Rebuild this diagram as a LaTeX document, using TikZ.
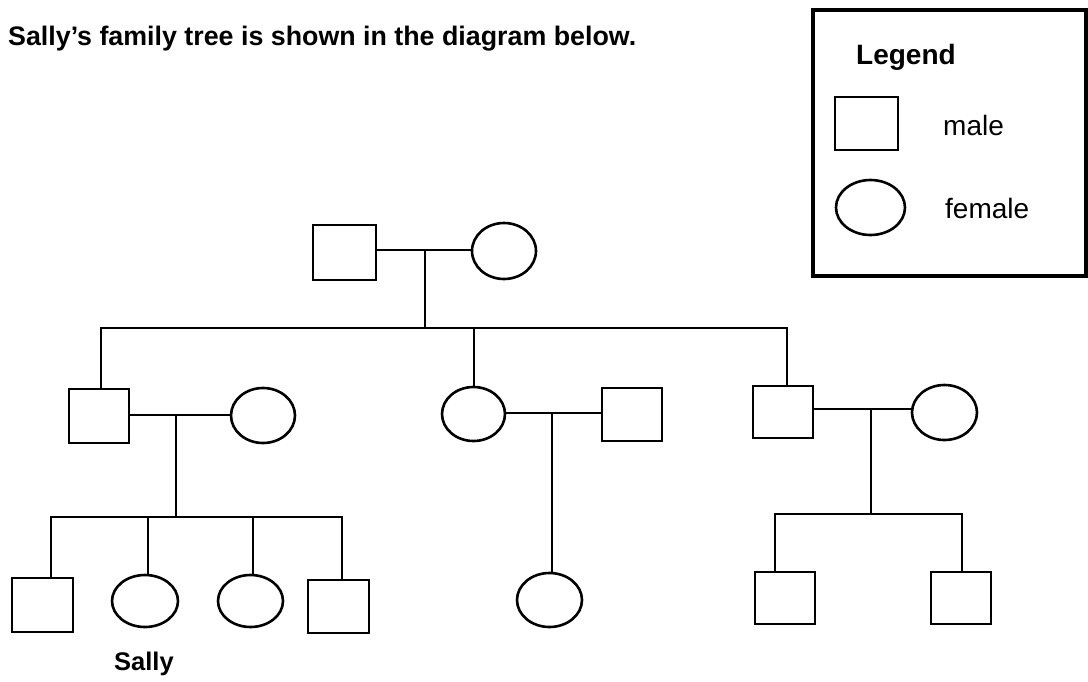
\documentclass[tikz,border=0pt]{standalone}
\usepackage{fontspec}
\setmainfont{Liberation Sans}
\usetikzlibrary{shapes.geometric}
\tikzset{
  ln/.style={line width=2.6pt, line join=miter},
  male/.style={draw, rectangle, line width=2.6pt, inner sep=0pt, minimum width=61pt, minimum height=54pt},
  female/.style={draw, ellipse, line width=2.6pt, inner sep=0pt, minimum width=65pt, minimum height=54pt},
  lbl/.style={anchor=base west, inner sep=0pt, font=\fontsize{28pt}{30pt}\selectfont},
  blbl/.style={anchor=base west, inner sep=0pt, font=\fontsize{26.8pt}{30pt}\selectfont\bfseries},
}
\begin{document}
\begin{tikzpicture}[x=1pt,y=-1pt]
\useasboundingbox (0,0) rectangle (1088,681);
\fill[white] (0,0) rectangle (1088,681);

% title
\node[blbl] (title) at (8,45) {Sally's family tree is shown in the diagram below.};

% legend
\draw[line width=4.5pt] (813,10) rectangle (1086,276);
\node[blbl, font=\fontsize{28pt}{30pt}\selectfont\bfseries] (leg) at (856,64) {Legend};
\node[male, minimum width=63pt, minimum height=53pt] (lm) at (866.5,123.5) {};
\node[female, minimum width=69pt, minimum height=55pt] (lf) at (870.5,207.5) {};
\node[lbl] (lmt) at (943,135) {male};
\node[lbl] (lft) at (945,218) {female};

% generation 1
\node[male, minimum width=63pt, minimum height=55pt] (gm) at (344.5,252.5) {};
\node[female, minimum width=64pt, minimum height=56pt] (gf) at (504,251) {};
\coordinate (j1) at (425,250);
\coordinate (s1) at (425,328);
\coordinate (sL) at (101,328);
\coordinate (sR) at (787,328);
\coordinate (sM) at (474,328);

% generation 2
\node[male, minimum width=60pt, minimum height=54pt] (am) at (99,416) {};
\node[female, minimum width=64pt, minimum height=55pt] (af) at (263,415.5) {};
\node[female, minimum width=63pt, minimum height=54pt] (bf) at (473.5,414) {};
\node[male, minimum width=60pt, minimum height=53pt] (bm) at (632,414.5) {};
\node[male, minimum width=60pt, minimum height=52pt] (cm) at (783,412) {};
\node[female, minimum width=65pt, minimum height=55pt] (cf) at (944.5,412.5) {};

% generation 3
\node[male, minimum width=61pt, minimum height=54pt] (k1) at (42.5,605) {};
\node[female, minimum width=66pt, minimum height=52pt] (k2) at (145,601) {};
\node[female, minimum width=65pt, minimum height=52pt] (k3) at (250.5,601) {};
\node[male, minimum width=61pt, minimum height=53pt] (k4) at (338.5,606.5) {};
\node[female, minimum width=65pt, minimum height=54pt] (k5) at (549.5,600) {};
\node[male, minimum width=60pt, minimum height=52pt] (k6) at (785,598) {};
\node[male, minimum width=60pt, minimum height=52pt] (k7) at (961,598) {};
\node[blbl, font=\fontsize{25.5pt}{30pt}\selectfont\bfseries] (sally) at (114,670) {Sally};

% connectors generation 1
\draw[ln] (gm.east |- j1) -- (gf.west |- j1);
\draw[ln] (j1) -- (s1);
\draw[ln] (sL |- am.north) -- (sL) -- (sR) -- (sR |- cm.north);
\draw[ln] (sM) -- (sM |- bf.north);

% family A
\coordinate (ja) at (176,415);
\coordinate (sa) at (176,517);
\draw[ln] (am.east |- ja) -- (af.west |- ja);
\draw[ln] (ja) -- (sa);
\coordinate (aL) at (51,517);
\coordinate (aR) at (342,517);
\draw[ln] (aL |- k1.north) -- (aL) -- (aR) -- (aR |- k4.north);
\coordinate (a2) at (148,517);
\coordinate (a3) at (253,517);
\draw[ln] (a2) -- (a2 |- k2.north);
\draw[ln] (a3) -- (a3 |- k3.north);

% family B
\coordinate (jb) at (552,413);
\draw[ln] (bf.east |- jb) -- (bm.west |- jb);
\draw[ln] (jb) -- (jb |- k5.north);

% family C
\coordinate (jc) at (871,409);
\coordinate (sc) at (871,514);
\draw[ln] (cm.east |- jc) -- (cf.west |- jc);
\draw[ln] (jc) -- (sc);
\coordinate (cL) at (775,514);
\coordinate (cR) at (962,514);
\draw[ln] (cL |- k6.north) -- (cL) -- (cR) -- (cR |- k7.north);
\end{tikzpicture}
\end{document}
